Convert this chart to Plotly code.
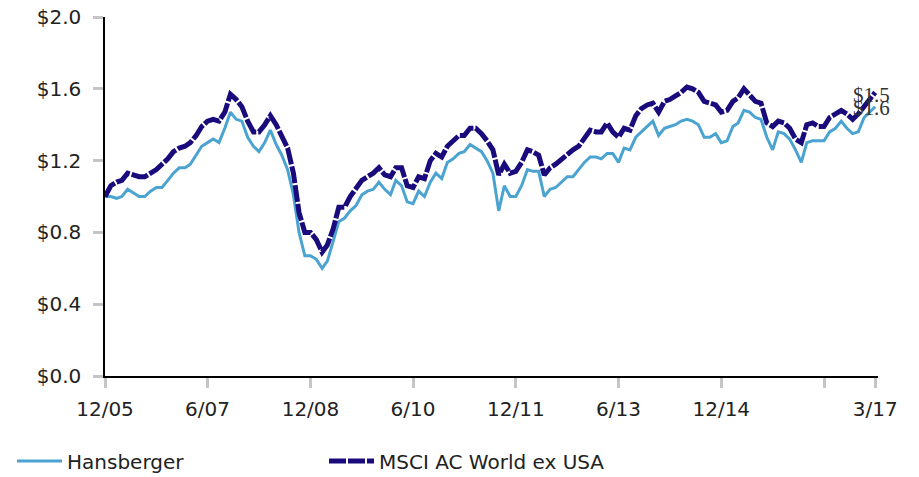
import pandas as pd
import plotly.graph_objects as go

# Monthly growth of $1, 12/2005 .. 3/2017
start_month = "2005-12-01"
n_months = 136

hansberger = [
    1.00, 1.00, 0.99, 1.00, 1.04, 1.02, 1.00, 1.00, 1.03, 1.05,
    1.05, 1.09, 1.13, 1.16, 1.16, 1.18, 1.23, 1.28, 1.30, 1.32,
    1.30, 1.38, 1.47, 1.43, 1.42, 1.33, 1.28, 1.25, 1.30, 1.37,
    1.29, 1.23, 1.15, 1.01, 0.80, 0.67, 0.67, 0.65, 0.60, 0.64,
    0.75, 0.86, 0.88, 0.92, 0.95, 1.01, 1.03, 1.04, 1.08, 1.04,
    1.01, 1.09, 1.06, 0.97, 0.96, 1.03, 1.00, 1.08, 1.13, 1.10,
    1.19, 1.21, 1.24, 1.25, 1.29, 1.27, 1.25, 1.20, 1.13, 0.92,
    1.06, 1.00, 1.00, 1.06, 1.15, 1.14, 1.14, 1.00, 1.04, 1.05,
    1.08, 1.11, 1.11, 1.15, 1.19, 1.22, 1.22, 1.21, 1.24, 1.24,
    1.19, 1.27, 1.26, 1.33, 1.36, 1.39, 1.42, 1.34, 1.38, 1.39,
    1.40, 1.42, 1.43, 1.42, 1.40, 1.33, 1.33, 1.35, 1.30, 1.31,
    1.39, 1.41, 1.48, 1.47, 1.44, 1.43, 1.33, 1.26, 1.36, 1.35,
    1.32, 1.26, 1.19, 1.30, 1.31, 1.31, 1.31, 1.36, 1.38, 1.42,
    1.38, 1.35, 1.36, 1.44, 1.47, 1.50,
]

msci = [
    1.00, 1.06, 1.08, 1.09, 1.13, 1.12, 1.11, 1.11, 1.13, 1.15,
    1.18, 1.21, 1.25, 1.27, 1.28, 1.30, 1.34, 1.39, 1.42, 1.43,
    1.42, 1.47, 1.57, 1.54, 1.50, 1.42, 1.36, 1.36, 1.40, 1.45,
    1.40, 1.33, 1.27, 1.13, 0.91, 0.80, 0.80, 0.76, 0.69, 0.73,
    0.82, 0.94, 0.94, 1.00, 1.04, 1.09, 1.11, 1.13, 1.16, 1.12,
    1.11, 1.16, 1.16, 1.06, 1.05, 1.11, 1.10, 1.20, 1.24, 1.22,
    1.28, 1.31, 1.34, 1.34, 1.38, 1.38, 1.35, 1.31, 1.26, 1.12,
    1.18, 1.13, 1.14, 1.19, 1.26, 1.25, 1.23, 1.12, 1.16, 1.18,
    1.21, 1.24, 1.26, 1.28, 1.32, 1.37, 1.36, 1.36, 1.41, 1.36,
    1.33, 1.38, 1.37, 1.45, 1.49, 1.51, 1.52, 1.47, 1.53, 1.54,
    1.56, 1.58, 1.61, 1.60, 1.58, 1.53, 1.52, 1.51, 1.47, 1.48,
    1.53, 1.55, 1.60, 1.57, 1.53, 1.52, 1.41, 1.39, 1.42, 1.41,
    1.38, 1.32, 1.30, 1.40, 1.41, 1.39, 1.39, 1.44, 1.46, 1.48,
    1.46, 1.43, 1.46, 1.50, 1.54, 1.58,
]

tick_dates = ["2005-12-01", "2007-06-01", "2008-12-01", "2010-06-01",
              "2011-12-01", "2013-06-01", "2014-12-01", "2016-06-01", "2017-03-01"]
tick_labels = ["12/05", "6/07", "12/08", "6/10", "12/11", "6/13", "12/14", "", "3/17"]

y_ticks = [0.0, 0.4, 0.8, 1.2, 1.6, 2.0]
y_tick_labels = ["$0.0", "$0.4", "$0.8", "$1.2", "$1.6", "$2.0"]

dates = pd.date_range(start_month, periods=n_months, freq="MS")

TEXT = "#222222"
FONT = "DejaVu Sans"
LIGHT = "#4aa3d0"
DARK = "#190b7c"
TICKC = "#c3c5c7"

fig = go.Figure()
fig.add_trace(go.Scatter(
    x=dates, y=hansberger, mode="lines", name="Hansberger",
    line=dict(color=LIGHT, width=3),
))
fig.add_trace(go.Scatter(
    x=dates, y=msci, mode="lines", name="MSCI AC World ex USA",
    line=dict(color=DARK, width=5, dash="17px,2px"),
))

# end-of-period value labels
fig.add_annotation(x=dates[-1], y=hansberger[-1], text=f"${hansberger[-1]:.1f}",
                   showarrow=False, xanchor="left", yanchor="middle",
                   xshift=-24, yshift=12,
                   font=dict(family="Liberation Serif", size=21, color="#333333"))
fig.add_annotation(x=dates[-1], y=msci[-1], text=f"${msci[-1]:.1f}",
                   showarrow=False, xanchor="left", yanchor="middle",
                   xshift=-24, yshift=-16,
                   font=dict(family="Liberation Serif", size=21, color="#333333"))

fig.update_layout(
    width=919, height=477,
    margin=dict(l=105, r=41, t=17, b=101, autoexpand=False),
    paper_bgcolor="white", plot_bgcolor="white",
    font=dict(family=FONT, size=20, color=TEXT),
    showlegend=True,
    legend=dict(orientation="h", xref="container", yref="container",
                x=12 / 919, xanchor="left", y=1 - 461 / 477, yanchor="middle",
                font=dict(family=FONT, size=20, color=TEXT),
                itemwidth=45, entrywidth=252, traceorder="normal",
                bgcolor="rgba(0,0,0,0)"),
    xaxis=dict(
        type="date", range=["2005-12-01", "2017-03-16"], automargin=False,
        tickmode="array", tickvals=tick_dates, ticktext=tick_labels,
        showline=True, linecolor="black", linewidth=1.5,
        ticks="outside", tickcolor=TICKC, ticklen=10, tickwidth=3,
        ticklabelstandoff=4,
        showgrid=False, zeroline=False,
        tickfont=dict(family=FONT, size=20, color=TEXT),
    ),
    yaxis=dict(
        range=[0, 2.0], automargin=False,
        tickmode="array", tickvals=y_ticks, ticktext=y_tick_labels,
        showline=True, linecolor="black", linewidth=1.5,
        ticks="outside", tickcolor=TICKC, ticklen=10, tickwidth=3,
        ticklabelstandoff=8,
        showgrid=False, zeroline=False,
        tickfont=dict(family=FONT, size=20, color=TEXT),
    ),
)

fig.write_html("out.html",
               config={"displayModeBar": False},
               post_script="document.body.style.margin='0';document.body.style.overflow='hidden';")
